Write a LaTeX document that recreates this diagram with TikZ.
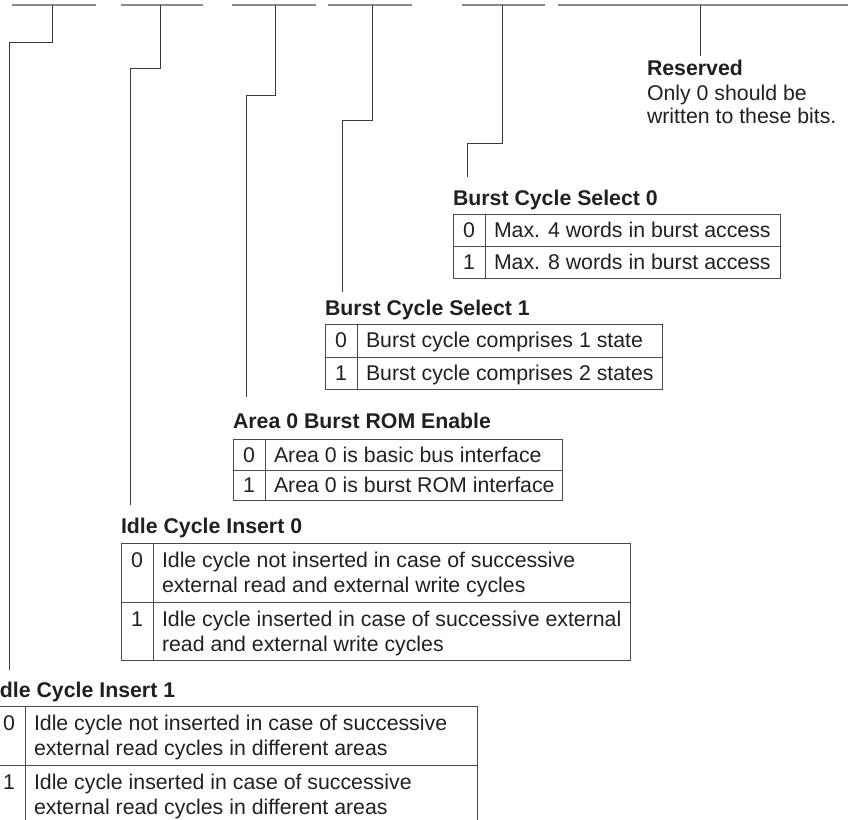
\documentclass[tikz,border=0pt]{standalone}
\usepackage{fontspec}
\setmainfont{Liberation Sans}
\definecolor{barc}{HTML}{8A8A8A}
\definecolor{leadc}{HTML}{3A3A3A}
\definecolor{gridc}{HTML}{4A4A4A}
\definecolor{txtc}{HTML}{231F20}
\begin{document}
\begin{tikzpicture}[x=1bp,y=-1bp,
  bar/.style={draw=barc, line width=1.4bp},
  lead/.style={draw=leadc, line width=0.9bp},
  gridln/.style={draw=gridc, line width=1bp},
  txt/.style={inner sep=0pt, outer sep=0pt, text=txtc, font=\fontsize{21.3bp}{25bp}\selectfont},
  ttl/.style={txt, font=\fontsize{21.3bp}{25bp}\selectfont\bfseries},
  bit/.style={txt, anchor=base},
  cell/.style={txt, anchor=base west}]
\useasboundingbox (0,0) rectangle (848,820);

% ---- top bit-field bars ----
\foreach \n/\a/\b in {1/12/96, 2/121/203, 3/232/316, 4/328/412, 5/462/545, 6/558/848}{
  \coordinate (bar\n l) at (\a,5);
  \coordinate (bar\n r) at (\b,5);
  \draw[bar] (bar\n l) -- (bar\n r);
}

% ---- leader coordinates ----
\coordinate (d1) at (52,5);  \coordinate (k1) at (9,42);   \coordinate (e1) at (9,670);
\coordinate (d2) at (160,5); \coordinate (k2) at (130,68); \coordinate (e2) at (130,505);
\coordinate (d3) at (275,5); \coordinate (k3) at (246,95); \coordinate (e3) at (246,397);
\coordinate (d4) at (372,5); \coordinate (k4) at (342,120);\coordinate (e4) at (342,292);
\coordinate (d5) at (502,5); \coordinate (k5) at (467,143);\coordinate (e5) at (467,177);
\coordinate (d6) at (700,5); \coordinate (e6) at (700,56);

\draw[lead] (d1) |- (k1) -- (e1);
\draw[lead] (d2) |- (k2) -- (e2);
\draw[lead] (d3) |- (k3) -- (e3);
\draw[lead] (d4) |- (k4) -- (e4);
\draw[lead] (d5) |- (k5) -- (e5);
\draw[lead] (d6) -- (e6);

% ---- Reserved ----
\node[ttl, anchor=base west] (resT) at (647,76) {Reserved};
\node[cell] (res1) at (647,100) {Only 0 should be};
\node[cell] (res2) at (647,123) {written to these bits.};

% ---- Burst Cycle Select 0 ----
\node[ttl, anchor=base west] (bcs0T) at (453,205) {Burst Cycle Select 0};
\draw[gridln] (453,214) rectangle (780,278);
\draw[gridln] (485,214) -- (485,278);
\draw[gridln] (453,246) -- (780,246);
\node[bit] (bcs0b0) at (469,237) {0};
\node[cell] (bcs0t0) at (494,237) {Max. 4 words in burst access};
\node[bit] (bcs0b1) at (469,269) {1};
\node[cell] (bcs0t1) at (494,269) {Max. 8 words in burst access};

% ---- Burst Cycle Select 1 ----
\node[ttl, anchor=base west] (bcs1T) at (325,315) {Burst Cycle Select 1};
\draw[gridln] (325,324) rectangle (662,389);
\draw[gridln] (357,324) -- (357,389);
\draw[gridln] (325,357) -- (662,357);
\node[bit] (bcs1b0) at (341,347) {0};
\node[cell] (bcs1t0) at (366,347) {Burst cycle comprises 1 state};
\node[bit] (bcs1b1) at (341,380) {1};
\node[cell] (bcs1t1) at (366,380) {Burst cycle comprises 2 states};

% ---- Area 0 Burst ROM Enable ----
\node[ttl, anchor=base west] (a0T) at (233,428) {Area 0 Burst ROM Enable};
\draw[gridln] (233,439) rectangle (562,500);
\draw[gridln] (265,439) -- (265,500);
\draw[gridln] (233,470) -- (562,470);
\node[bit] (a0b0) at (249,462) {0};
\node[cell] (a0t0) at (274,462) {Area 0 is basic bus interface};
\node[bit] (a0b1) at (249,492) {1};
\node[cell] (a0t1) at (274,492) {Area 0 is burst ROM interface};

% ---- Idle Cycle Insert 0 ----
\node[ttl, anchor=base west] (ic0T) at (121,533) {Idle Cycle Insert 0};
\draw[gridln] (121,543) rectangle (630,660);
\draw[gridln] (153,543) -- (153,660);
\draw[gridln] (121,602) -- (630,602);
\node[bit] (ic0b0) at (137,567) {0};
\node[cell] (ic0t0a) at (162,567) {Idle cycle not inserted in case of successive};
\node[cell] (ic0t0b) at (162,592) {external read and external write cycles};
\node[bit] (ic0b1) at (137,626) {1};
\node[cell] (ic0t1a) at (162,626) {Idle cycle inserted in case of successive external};
\node[cell] (ic0t1b) at (162,651) {read and external write cycles};

% ---- Idle Cycle Insert 1 ----
\node[ttl, anchor=base west] (ic1T) at (-6,697) {Idle Cycle Insert 1};
\draw[gridln] (-7,706) rectangle (477,824);
\draw[gridln] (25,706) -- (25,824);
\draw[gridln] (-7,765) -- (477,765);
\node[bit] (ic1b0) at (9,730) {0};
\node[cell] (ic1t0a) at (34,730) {Idle cycle not inserted in case of successive};
\node[cell] (ic1t0b) at (34,755) {external read cycles in different areas};
\node[bit] (ic1b1) at (9,789) {1};
\node[cell] (ic1t1a) at (34,789) {Idle cycle inserted in case of successive};
\node[cell] (ic1t1b) at (34,814) {external read cycles in different areas};
\end{tikzpicture}
\end{document}
